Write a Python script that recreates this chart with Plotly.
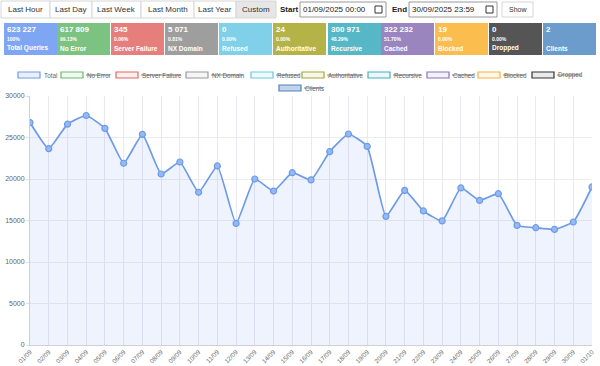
import plotly.graph_objects as go

# ---------------- data ----------------
dates = ["01/09", "02/09", "03/09", "04/09", "05/09", "06/09", "07/09", "08/09", "09/09", "10/09",
         "11/09", "12/09", "13/09", "14/09", "15/09", "16/09", "17/09", "18/09", "19/09", "20/09",
         "21/09", "22/09", "23/09", "24/09", "25/09", "26/09", "27/09", "28/09", "29/09", "30/09",
         "01/10"]
total_queries = [26800, 23650, 26600, 27650, 26100, 21900, 25380, 20600, 22050, 18400,
                 21570, 14650, 20000, 18550, 20760, 19900, 23300, 25420, 23930, 15500,
                 18630, 16150, 14950, 18920, 17420, 18230, 14410, 14130, 13930, 14820,
                 19040]

stat_values = ["623 227", "617 809", "345", "5 071", "0", "24", "300 971", "322 232", "19", "0", "2"]
stat_pcts = ["100%", "99.13%", "0.06%", "0.81%", "0.00%", "0.00%", "48.29%", "51.70%", "0.00%", "0.00%", ""]
stat_labels = ["Total Queries", "No Error", "Server Failure", "NX Domain", "Refused", "Authoritative",
               "Recursive", "Cached", "Blocked", "Dropped", "Clients"]
stat_colors = ["#7fa6f2", "#7cc281", "#e67f7b", "#9e9e9e", "#7fd0e8", "#b3b347", "#56b7c6",
               "#9a85bf", "#fbbd4d", "#555555", "#6b9ccc"]

legend_names = ["Total", "No Error", "Server Failure", "NX Domain", "Refused", "Authoritative",
                "Recursive", "Cached", "Blocked", "Dropped", "Clients"]
legend_hidden = [False, True, True, True, True, True, True, True, True, True, True]
legend_stroke = ["#6e9be6", "#6cbb70", "#de6a66", "#999999", "#6cc7e0", "#a8a838", "#45afc0",
                 "#8a73b8", "#f5b040", "#333333", "#4f82c4"]
legend_fill = ["rgba(110,155,230,0.15)", "rgba(108,187,112,0.1)", "rgba(222,106,102,0.1)",
               "rgba(153,153,153,0.1)", "rgba(108,199,224,0.1)", "rgba(168,168,56,0.1)",
               "rgba(69,175,192,0.1)", "rgba(138,115,184,0.1)", "rgba(245,176,64,0.1)",
               "rgba(51,51,51,0.1)", "rgba(79,130,196,0.35)"]

buttons = ["Last Hour", "Last Day", "Last Week", "Last Month", "Last Year", "Custom"]
start_text = "01/09/2025 00:00"
end_text = "30/09/2025 23:59"

# ---------------- layout helpers ----------------
W, H = 600, 366
L, R, T, B = 30, 592, 96, 345
FONT = "Liberation Sans, Arial, Helvetica, sans-serif"

# approximate Arial advance widths (per 1000 em)
CW = {" ": 278, "A": 667, "B": 667, "C": 722, "D": 722, "E": 667, "F": 611, "N": 722, "R": 722,
      "S": 667, "X": 667, "a": 556, "b": 556, "c": 500, "d": 556, "e": 556, "f": 278, "h": 556,
      "i": 222, "k": 500, "l": 222, "m": 833, "n": 556, "o": 556, "p": 556, "r": 333, "s": 500,
      "t": 278, "u": 556, "v": 500}


def text_width(s, size):
    return sum(CW.get(c, 556) for c in s) * size / 1000.0


def X(px):
    return (px - L) / (R - L)


def Y(py):
    return (B - py) / (B - T)


shapes = []
annotations = []


def rect(x0, y0, x1, y1, fill, line="rgba(0,0,0,0)", lw=0):
    shapes.append(dict(type="rect", xref="paper", yref="paper", x0=X(x0), x1=X(x1), y0=Y(y1), y1=Y(y0),
                       fillcolor=fill, line=dict(color=line, width=lw), layer="above"))


def hline(x0, x1, y, color, w=1):
    shapes.append(dict(type="line", xref="paper", yref="paper", x0=X(x0), x1=X(x1), y0=Y(y), y1=Y(y),
                       line=dict(color=color, width=w), layer="above"))


def text(px, py, s, size=9, color="#333", anchor="left", bold=False):
    if bold:
        s = "<b>" + s + "</b>"
    annotations.append(dict(xref="paper", yref="paper", x=X(px), y=Y(py), text=s, showarrow=False,
                            xanchor=anchor, yanchor="middle", font=dict(family=FONT, size=size, color=color),
                            borderpad=0))


# toolbar buttons
btn_x = [1, 50, 92, 141, 194, 236, 276]
for i, name in enumerate(buttons):
    fill = "#e6e6e6" if name == "Custom" else "#ffffff"
    rect(btn_x[i], 1, btn_x[i + 1], 18, fill, "#d6d6d6", 1)
    text((btn_x[i] + btn_x[i + 1]) / 2, 9.5, name, 8, "#333", "center")

text(279, 9.5, "Start", 8, "#222", "left", True)
rect(300, 2, 386, 17, "#ffffff", "#999999", 1)
text(302, 9.5, start_text, 8, "#222", "left")
rect(375, 6, 382, 13, "#ffffff", "#333333", 1)
text(391, 9.5, "End", 8, "#222", "left", True)
rect(409, 2, 497, 17, "#ffffff", "#999999", 1)
text(411, 9.5, end_text, 8, "#222", "left")
rect(486, 6, 493, 13, "#ffffff", "#333333", 1)
rect(502, 2, 533, 17, "#ffffff", "#d6d6d6", 1)
text(517.5, 9.5, "Show", 7, "#333", "center")

# stat boxes
box_x = [4, 57, 111, 165, 219, 273, 328, 381, 435, 489, 543]
for i in range(len(stat_values)):
    x0 = box_x[i]
    rect(x0, 23, x0 + 53, 55, stat_colors[i])
    text(x0 + 2, 29.5, stat_values[i], 8, "#ffffff", "left", True)
    if stat_pcts[i]:
        text(x0 + 2, 38.5, stat_pcts[i], 5, "#ffffff", "left", True)
    text(x0 + 2, 48, stat_labels[i], 6.5, "#ffffff", "left", True)

# legend
LEG_SIZE = 6.3
leg_box_x = [18, 61, 116, 186, 251, 302, 368, 427, 478, 532, 279]
leg_row_y = [75, 75, 75, 75, 75, 75, 75, 75, 75, 75, 88]
for i, name in enumerate(legend_names):
    bx, by = leg_box_x[i], leg_row_y[i]
    rect(bx, by - 3, bx + 22, by + 3, legend_fill[i], legend_stroke[i], 1.2)
    text(bx + 25, by, name, LEG_SIZE, "#666666", "left")
    if legend_hidden[i]:
        hline(bx + 25, bx + 25 + text_width(name, LEG_SIZE), by, "#777777", 0.9)

# ---------------- chart ----------------
fig = go.Figure()
fig.add_trace(go.Scatter(
    x=dates, y=total_queries, mode="lines+markers", name="Total",
    line=dict(color="#6e9be6", width=1.7, shape="spline", smoothing=0.4),
    marker=dict(size=6, color="rgba(150,185,245,1)", line=dict(color="#6e9be6", width=1.2)),
    fill="tozeroy", fillcolor="rgba(120,160,240,0.12)",
    showlegend=False,
))

fig.update_layout(
    width=W, height=H,
    margin=dict(l=L, r=W - R, t=T, b=H - B),
    paper_bgcolor="#ffffff", plot_bgcolor="#ffffff",
    font=dict(family=FONT, color="#666666"),
    showlegend=False,
    shapes=shapes, annotations=annotations,
    xaxis=dict(type="category", range=[0, len(dates) - 1], showgrid=True, gridcolor="#e8e8ee", gridwidth=1,
               tickangle=-45, tickfont=dict(size=6.3, color="#666666"), showline=True, linecolor="#d0d0d0",
               ticks="", zeroline=False, automargin=False),
    yaxis=dict(range=[0, 30000], dtick=5000, showgrid=True, gridcolor="#ececec", gridwidth=1,
               tickfont=dict(size=7, color="#666666"), showline=True, linecolor="#d0d0d0",
               ticks="outside", ticklen=3, tickcolor="#e0e0e0", zeroline=False, automargin=False,
               tickformat="d"),
)

fig.write_html("out.html", config={"displayModeBar": False},
               post_script="document.body.style.margin='0';document.body.style.overflow='hidden';")
